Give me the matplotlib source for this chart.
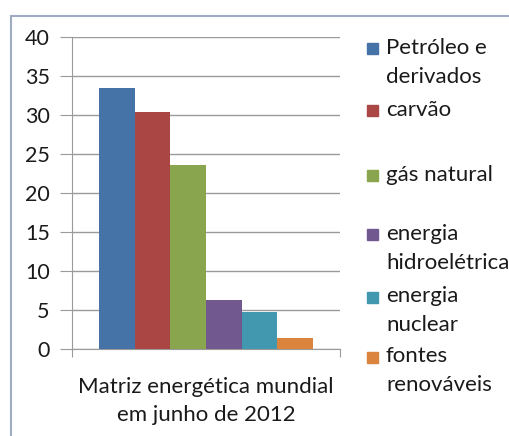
import matplotlib.pyplot as plt
from matplotlib.patches import Rectangle

plt.rcParams['font.family'] = ['Lato', 'DejaVu Sans']

labels = ['Petróleo e\nderivados', 'carvão', 'gás natural',
          'energia\nhidroelétrica', 'energia\nnuclear', 'fontes\nrenováveis']
values = [33.5, 30.4, 23.6, 6.3, 4.8, 1.4]
colors = ['#4572A7', '#AA4643', '#89A54E', '#71588F', '#4198AF', '#DB843D']
category = 'Matriz energética mundial\nem junho de 2012'
yticks = [0, 5, 10, 15, 20, 25, 30, 35, 40]

W, H = 510, 436
fig = plt.figure(figsize=(W / 100, H / 100), dpi=100)

# outer chart border
fig.patches.append(Rectangle((11 / W, -0.05), 1.1, 1 - 16 / H + 0.05,
                             transform=fig.transFigure, fill=False,
                             edgecolor='#9eabc3', linewidth=1.5))

ax = fig.add_axes([72 / W, 1 - 349 / H, 268 / W, 312 / H])
ax.bar(range(len(values)), values, width=1.0, color=colors, zorder=3)
ax.set_xlim(-1.25, 6.25)
ax.set_ylim(0, 40)
ax.set_yticks(yticks)
ax.yaxis.grid(True, color='#9a9a9a', linewidth=1)
ax.tick_params(axis='y', length=9, color='#9a9a9a', labelsize=15.5,
               labelcolor='#1a1a1a', pad=7)
ax.set_xticks([-1.25, 6.25])
ax.set_xticklabels(['', ''])
ax.tick_params(axis='x', length=6, color='#9a9a9a')
for s in ['top', 'right']:
    ax.spines[s].set_visible(False)
for s in ['left', 'bottom']:
    ax.spines[s].set_color('#9a9a9a')
ax.text(2.5, -0.09, category, transform=ax.get_xaxis_transform(),
        ha='center', va='top', fontsize=16, color='#1a1a1a',
        linespacing=1.5)

# legend
leg_y = [49, 111, 176, 235, 297, 357]
for lab, col, y in zip(labels, colors, leg_y):
    fig.patches.append(Rectangle((367 / W, 1 - (y + 5.5) / H), 11 / W, 11 / H,
                                 transform=fig.transFigure, color=col))
    fig.text(386 / W, 1 - (y - 11) / H, lab, ha='left', va='top',
             fontsize=16, color='#1a1a1a', linespacing=1.55)

fig.savefig('out.png', dpi=100)
